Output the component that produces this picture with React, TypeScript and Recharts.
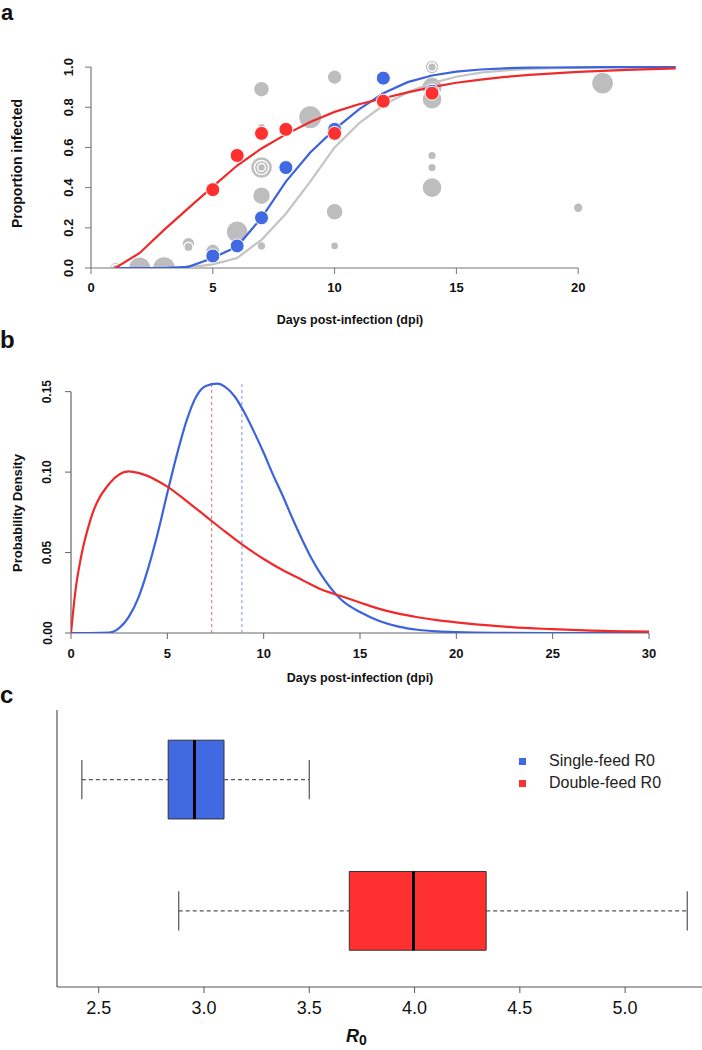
import React from "react"
import {
  ComposedChart,
  Line,
  Scatter,
  XAxis,
  YAxis,
  ZAxis,
  ReferenceLine,
  ReferenceArea,
  Legend,
} from "recharts"

// ---- panel a: proportion infected vs dpi ----
const fitDays = [1, 2, 3, 4, 5, 6, 7, 8, 9, 10, 11, 12, 13, 14, 15, 16, 17, 18, 19, 20, 21, 22, 23, 24]
const grayFit = [0, 0, 0, 0.003, 0.018, 0.05, 0.14, 0.27, 0.43, 0.6, 0.72, 0.81, 0.875, 0.92, 0.952, 0.972, 0.984, 0.991, 0.995, 0.997, 0.998, 0.999, 1, 1]
const blueFit = [0, 0, 0, 0.006, 0.05, 0.107, 0.25, 0.43, 0.575, 0.69, 0.79, 0.87, 0.925, 0.958, 0.977, 0.988, 0.994, 0.997, 0.998, 0.999, 1, 1, 1, 1]
const redFit = [0, 0.075, 0.19, 0.298, 0.405, 0.51, 0.595, 0.665, 0.727, 0.777, 0.815, 0.845, 0.874, 0.9, 0.922, 0.938, 0.951, 0.961, 0.969, 0.976, 0.981, 0.986, 0.99, 0.994]

const blueDays = [5, 6, 7, 8, 10, 12, 14]
const blueProp = [0.06, 0.11, 0.25, 0.5, 0.69, 0.945, 0.88]
const redDays = [5, 6, 7, 8, 10, 12, 14]
const redProp = [0.39, 0.56, 0.67, 0.69, 0.67, 0.83, 0.87]

// other studies, point area ~ sample size
const grayDays = [1, 1, 2, 3, 4, 4, 4, 5, 6, 7, 7, 7, 7, 7, 7, 7, 9, 10, 10, 10, 14, 14, 14, 14, 14, 14, 14, 20, 21]
const grayProp = [0, 0, 0, 0, 0, 0.12, 0.105, 0.085, 0.18, 0.11, 0.36, 0.5, 0.5, 0.5, 0.7, 0.89, 0.75, 0.95, 0.28, 0.11, 1.0, 1.0, 0.9, 0.84, 0.56, 0.5, 0.4, 0.3, 0.92]
const graySize = [12, 5, 48, 50, 6, 16, 8, 19, 46, 7, 30, 46, 19, 6, 6, 24, 52, 20, 27, 6, 18, 7, 40, 38, 7, 7, 38, 9, 47]

// ---- panel b: probability density ----
const redDensDays = [0, 0.25, 0.5, 1, 2, 3, 3.5, 4, 4.5, 5, 6, 7, 8, 9, 10, 11, 12, 13, 14, 15, 16, 17, 18, 19, 20, 21, 22, 23, 24, 25, 26, 27, 28, 29, 30]
const redDensity = [0, 0.028, 0.046, 0.07, 0.093, 0.1005, 0.0995, 0.0975, 0.0945, 0.091, 0.082, 0.0725, 0.063, 0.054, 0.046, 0.039, 0.033, 0.027, 0.023, 0.019, 0.015, 0.012, 0.0098, 0.008, 0.0066, 0.0054, 0.0044, 0.0035, 0.0029, 0.0024, 0.0019, 0.0015, 0.0012, 0.001, 0.0008]
const blueDensDays = [0, 1, 2, 2.5, 3, 3.5, 4, 4.5, 5, 5.5, 6, 6.5, 7, 7.6, 8, 8.5, 9, 9.5, 10, 10.5, 11, 11.5, 12, 12.5, 13, 14, 15, 16, 17, 18, 19, 20, 22, 25, 30]
const blueDensity = [0, 0, 0.0003, 0.003, 0.01, 0.022, 0.04, 0.062, 0.087, 0.111, 0.132, 0.147, 0.1535, 0.155, 0.153, 0.147, 0.137, 0.125, 0.112, 0.098, 0.085, 0.071, 0.058, 0.046, 0.036, 0.021, 0.013, 0.0075, 0.004, 0.002, 0.001, 0.0005, 0.0001, 0, 0]
const redMeanDay = 7.3
const blueMeanDay = 8.87

// ---- panel c: R0 boxplots ----
const feedGroups = ["Single-feed R0", "Double-feed R0"]
const r0Min = [2.42, 2.88]
const r0Q1 = [2.83, 3.69]
const r0Median = [2.955, 3.995]
const r0Q3 = [3.095, 4.34]
const r0Max = [3.5, 5.295]

const BLUE = "#4169E1"
const RED = "#FF3030"
const GRAY = "#bdbdbd"
const groupColors = [BLUE, RED]

const SANS = "'Liberation Sans', Arial, sans-serif"
const NARROW = "'Liberation Sans Narrow', 'Liberation Sans', Arial, sans-serif"

const toXY = (xs: number[], ys: number[]) => xs.map((x, i) => ({ x, y: ys[i] }))

const grayRows = grayDays.map((x, i) => ({ x, y: grayProp[i], n: graySize[i] }))

function RotatedTick(props: any) {
  const { x, y, payload, digits, fontSize, dx } = props
  const bx = x + dx
  return (
    <text
      x={bx}
      y={y}
      transform={`rotate(-90 ${bx} ${y})`}
      textAnchor="middle"
      fontSize={fontSize}
      fontWeight="bold"
      fontFamily={SANS}
      fill="#111"
    >
      {Number(payload.value).toFixed(digits)}
    </text>
  )
}

const dotShape = (color: string) => (p: any) =>
  <circle cx={p.cx} cy={p.cy} r={7} fill={color} stroke="#fff" strokeWidth={1} />

function PanelA() {
  return (
    <ComposedChart width={702} height={340} margin={{ top: 47, right: 2, bottom: 42, left: 0 }}>
      <XAxis
        type="number"
        dataKey="x"
        domain={[0, 25]}
        allowDataOverflow
        ticks={[0, 5, 10, 15, 20]}
        interval={0}
        height={30}
        axisLine={false}
        tickLine={{ stroke: "#777" }}
        tickSize={6}
        tickMargin={9}
        tick={{ fontSize: 13, fontWeight: "bold", fill: "#111", fontFamily: SANS }}
      />
      <YAxis
        type="number"
        dataKey="y"
        domain={[0, 1.1]}
        allowDataOverflow
        ticks={[0, 0.2, 0.4, 0.6, 0.8, 1.0]}
        interval={0}
        width={91}
        axisLine={false}
        tickLine={{ stroke: "#777" }}
        tickSize={6}
        tickMargin={2}
        tick={<RotatedTick digits={1} fontSize={13} dx={-10} />}
      />
      <ZAxis zAxisId="n" dataKey="n" type="number" domain={[0, 100]} range={[0, 830]} />
      <ZAxis zAxisId="pt" type="number" range={[150, 150]} />
      <ReferenceLine segment={[{ x: 0, y: 0 }, { x: 20, y: 0 }]} stroke="#777" strokeWidth={1.2} />
      <ReferenceLine segment={[{ x: 0, y: 0 }, { x: 0, y: 1 }]} stroke="#777" strokeWidth={1.2} />
      <Scatter data={grayRows} zAxisId="n" fill={GRAY} stroke="#fff" strokeWidth={1.4} zIndex={100} isAnimationActive={false} />
      <Line data={toXY(fitDays, grayFit)} dataKey="y" type="linear" stroke="#c4c4c4" strokeWidth={2.2} dot={false} isAnimationActive={false} />
      <Line data={toXY(fitDays, blueFit)} dataKey="y" type="linear" stroke="#3c62dc" strokeWidth={2.2} dot={false} isAnimationActive={false} />
      <Line data={toXY(fitDays, redFit)} dataKey="y" type="linear" stroke="#f02a2a" strokeWidth={2.2} dot={false} isAnimationActive={false} />
      <Scatter data={toXY(blueDays, blueProp)} zAxisId="pt" shape={dotShape(BLUE)} isAnimationActive={false} />
      <Scatter data={toXY(redDays, redProp)} zAxisId="pt" shape={dotShape(RED)} isAnimationActive={false} />
    </ComposedChart>
  )
}

function PanelB() {
  return (
    <ComposedChart width={702} height={360} margin={{ top: 42, right: 53, bottom: 37, left: 0 }}>
      <XAxis
        type="number"
        dataKey="x"
        domain={[0, 30]}
        allowDataOverflow
        ticks={[0, 5, 10, 15, 20, 25, 30]}
        interval={0}
        height={30}
        axisLine={false}
        tickLine={{ stroke: "#666" }}
        tickSize={6}
        tickMargin={10}
        tick={{ fontSize: 13, fontWeight: "bold", fill: "#111", fontFamily: SANS }}
      />
      <YAxis
        type="number"
        dataKey="y"
        domain={[0, 0.156]}
        allowDataOverflow
        ticks={[0, 0.05, 0.1, 0.15]}
        interval={0}
        width={71}
        axisLine={false}
        tickLine={{ stroke: "#666" }}
        tickSize={6}
        tickMargin={2}
        tick={<RotatedTick digits={2} fontSize={12} dx={-11.5} />}
      />
      <ReferenceLine segment={[{ x: 0, y: 0 }, { x: 30, y: 0 }]} stroke="#999" strokeWidth={1.5} />
      <ReferenceLine segment={[{ x: 0, y: 0 }, { x: 0, y: 0.15 }]} stroke="#666" strokeWidth={1.2} />
      <ReferenceLine x={redMeanDay} stroke="#e06a6a" strokeDasharray="3 3" strokeWidth={1} />
      <ReferenceLine x={blueMeanDay} stroke="#7b93e6" strokeDasharray="3 3" strokeWidth={1} />
      <Line data={toXY(blueDensDays, blueDensity)} dataKey="y" type="monotone" stroke="#3c62dc" strokeWidth={2.2} dot={false} isAnimationActive={false} />
      <Line data={toXY(redDensDays, redDensity)} dataKey="y" type="monotone" stroke="#f02a2a" strokeWidth={2.2} dot={false} isAnimationActive={false} />
    </ComposedChart>
  )
}

const BOX_HALF = 0.3
const CAP_HALF = 0.15

function BoxLegend() {
  return (
    <div style={{ fontFamily: SANS, fontSize: 16, color: "#222" }}>
      {feedGroups.map((name, i) => (
        <div key={name} style={{ display: "flex", alignItems: "center", height: 22 }}>
          <span style={{ width: 7, height: 7, background: groupColors[i], display: "inline-block" }} />
          <span style={{ marginLeft: 23, whiteSpace: "nowrap" }}>{name}</span>
        </div>
      ))}
    </div>
  )
}

function PanelC() {
  const pos = feedGroups.map((_, i) => feedGroups.length - i)
  return (
    <ComposedChart width={702} height={350} margin={{ top: 10, right: 0, bottom: 23, left: 0 }}>
      <XAxis
        type="number"
        dataKey="x"
        domain={[2.302, 5.365]}
        allowDataOverflow
        ticks={[2.5, 3, 3.5, 4, 4.5, 5]}
        tickFormatter={(v: number) => v.toFixed(1)}
        interval={0}
        height={40}
        axisLine={{ stroke: "#555", strokeWidth: 1.2 }}
        tickLine={{ stroke: "#555" }}
        tickSize={6}
        tickMargin={8}
        tick={{ fontSize: 18, fill: "#111", fontFamily: SANS }}
      />
      <YAxis
        type="number"
        dataKey="y"
        domain={[0.42, 2.53]}
        allowDataOverflow
        width={57}
        tick={false}
        tickLine={false}
        axisLine={{ stroke: "#555", strokeWidth: 1.2 }}
      />
      <Legend
        layout="horizontal"
        verticalAlign="middle"
        align="center"
        content={() => <BoxLegend />}
        wrapperStyle={{ left: 519, top: 50, width: 180 }}
      />
      {feedGroups.map((g, i) => (
        <ReferenceLine
          key={g + "-wl"}
          segment={[{ x: r0Min[i], y: pos[i] }, { x: r0Q1[i], y: pos[i] }]}
          stroke="#555"
          strokeDasharray="4 3"
          strokeWidth={1.2}
        />
      ))}
      {feedGroups.map((g, i) => (
        <ReferenceLine
          key={g + "-wr"}
          segment={[{ x: r0Q3[i], y: pos[i] }, { x: r0Max[i], y: pos[i] }]}
          stroke="#555"
          strokeDasharray="4 3"
          strokeWidth={1.2}
        />
      ))}
      {feedGroups.map((g, i) => (
        <ReferenceLine
          key={g + "-cl"}
          segment={[{ x: r0Min[i], y: pos[i] - CAP_HALF }, { x: r0Min[i], y: pos[i] + CAP_HALF }]}
          stroke="#555"
          strokeWidth={1.2}
        />
      ))}
      {feedGroups.map((g, i) => (
        <ReferenceLine
          key={g + "-cr"}
          segment={[{ x: r0Max[i], y: pos[i] - CAP_HALF }, { x: r0Max[i], y: pos[i] + CAP_HALF }]}
          stroke="#555"
          strokeWidth={1.2}
        />
      ))}
      {feedGroups.map((g, i) => (
        <ReferenceArea
          key={g + "-box"}
          x1={r0Q1[i]}
          x2={r0Q3[i]}
          y1={pos[i] - BOX_HALF}
          y2={pos[i] + BOX_HALF}
          fill={groupColors[i]}
          fillOpacity={1}
          stroke="#333"
          strokeWidth={1}
        />
      ))}
      {feedGroups.map((g, i) => (
        <ReferenceLine
          key={g + "-med"}
          segment={[{ x: r0Median[i], y: pos[i] - BOX_HALF }, { x: r0Median[i], y: pos[i] + BOX_HALF }]}
          stroke="#000"
          strokeWidth={3}
        />
      ))}
    </ComposedChart>
  )
}

export default function App() {
  return (
    <div style={{ position: "absolute", left: 0, top: 0, width: 702, height: 1050, overflow: "hidden", background: "#fff" }}>
      <div style={{ position: "absolute", left: 0, top: 0 }}>
        <PanelA />
      </div>
      <div style={{ position: "absolute", left: 0, top: 340 }}>
        <PanelB />
      </div>
      <div style={{ position: "absolute", left: 0, top: 700 }}>
        <PanelC />
      </div>
      <svg width={702} height={1050} style={{ position: "absolute", left: 0, top: 0, pointerEvents: "none" }}>
        <g fontFamily={SANS} fontWeight="bold" fill="#111">
          <text x={1} y={20} fontSize={22}>a</text>
          <text x={0} y={348} fontSize={24}>b</text>
          <text x={0} y={703} fontSize={24}>c</text>
          <text x={350} y={324} fontSize={12.5} textAnchor="middle">Days post-infection (dpi)</text>
          <text x={360} y={681.5} fontSize={12.5} textAnchor="middle">Days post-infection (dpi)</text>
        </g>
        <g fontFamily={NARROW} fontWeight="bold" fill="#111" textAnchor="middle">
          <text x={22} y={163.5} fontSize={14} transform="rotate(-90 22 163.5)">Proportion infected</text>
          <text x={22} y={513} fontSize={13} transform="rotate(-90 22 513)">Probability Density</text>
        </g>
        <text x={346} y={1042} fontFamily={SANS} fontWeight="bold" fill="#111">
          <tspan fontSize={18} fontStyle="italic">R</tspan>
          <tspan fontSize={14} dy={3}>0</tspan>
        </text>
      </svg>
    </div>
  )
}
